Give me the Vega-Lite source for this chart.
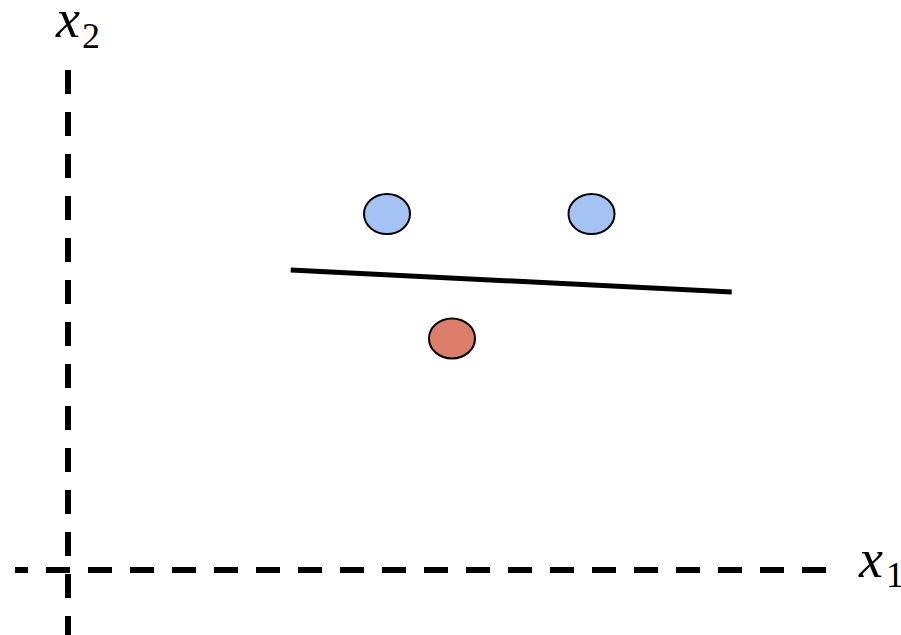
{
  "$schema": "https://vega.github.io/schema/vega-lite/v6.json",
  "width": 901,
  "height": 635,
  "autosize": {"type": "none"},
  "padding": 0,
  "background": "white",
  "config": {"view": {"stroke": null}},
  "datasets": {
    "points": [
      {"x1": 3.9875, "x2": 4.45, "cls": "positive"},
      {"x1": 6.544, "x2": 4.45, "cls": "positive"},
      {"x1": 4.8, "x2": 2.894, "cls": "negative"}
    ],
    "boundary": [
      {"x1": 2.784, "x2": 3.75},
      {"x1": 8.296, "x2": 3.475}
    ],
    "vaxis": [{"x1": 0, "x2start": 6.25, "x2end": -0.8125}],
    "haxis": [{"x2": 0, "x1start": -0.6625, "x1end": 9.475}],
    "labels": [
      {"t": "x", "x1": 0, "x2": 6.6625, "role": "var"},
      {"t": "2", "x1": 0.175, "x2": 6.525, "role": "sub"},
      {"t": "x", "x1": 10.0375, "x2": -0.0875, "role": "var"},
      {"t": "1", "x1": 10.225, "x2": -0.2125, "role": "sub"}
    ]
  },
  "layer": [
    {
      "data": {"name": "vaxis"},
      "mark": {"type": "rule", "strokeWidth": 6, "strokeDash": [24, 18], "strokeCap": "butt", "color": "black"},
      "encoding": {
        "x": {"field": "x1", "type": "quantitative", "scale": {"domain": [-0.85, 10.4125], "nice": false, "zero": false}, "axis": null},
        "y": {"field": "x2start", "type": "quantitative", "scale": {"domain": [-0.8125, 7.125], "nice": false, "zero": false}, "axis": null},
        "y2": {"field": "x2end"}
      }
    },
    {
      "data": {"name": "haxis"},
      "mark": {"type": "rule", "strokeWidth": 6, "strokeDash": [24, 18], "strokeDashOffset": 11, "strokeCap": "butt", "color": "black"},
      "encoding": {
        "x": {"field": "x1start", "type": "quantitative", "scale": {"domain": [-0.85, 10.4125], "nice": false, "zero": false}, "axis": null},
        "x2": {"field": "x1end"},
        "y": {"field": "x2", "type": "quantitative", "scale": {"domain": [-0.8125, 7.125], "nice": false, "zero": false}, "axis": null}
      }
    },
    {
      "data": {"name": "boundary"},
      "mark": {"type": "line", "strokeWidth": 5, "strokeCap": "butt", "color": "black"},
      "encoding": {
        "x": {"field": "x1", "type": "quantitative", "scale": {"domain": [-0.85, 10.4125], "nice": false, "zero": false}, "axis": null},
        "y": {"field": "x2", "type": "quantitative", "scale": {"domain": [-0.8125, 7.125], "nice": false, "zero": false}, "axis": null}
      }
    },
    {
      "data": {"name": "points"},
      "mark": {"type": "point", "filled": true, "shape": "M-1,0A1,0.87,0,1,0,1,0A1,0.87,0,1,0,-1,0Z", "size": 2116, "stroke": "black", "strokeWidth": 2, "opacity": 1, "fillOpacity": 1},
      "encoding": {
        "x": {"field": "x1", "type": "quantitative", "scale": {"domain": [-0.85, 10.4125], "nice": false, "zero": false}, "axis": null},
        "y": {"field": "x2", "type": "quantitative", "scale": {"domain": [-0.8125, 7.125], "nice": false, "zero": false}, "axis": null},
        "fill": {"field": "cls", "type": "nominal", "scale": {"domain": ["positive", "negative"], "range": ["#a4c2f4", "#dd7e6b"]}, "legend": null}
      }
    },
    {
      "data": {"name": "labels"},
      "transform": [{"filter": "datum.role === 'var'"}],
      "mark": {"type": "text", "font": "Liberation Serif", "fontStyle": "italic", "fontSize": 54, "align": "center", "baseline": "alphabetic", "color": "black"},
      "encoding": {
        "x": {"field": "x1", "type": "quantitative", "scale": {"domain": [-0.85, 10.4125], "nice": false, "zero": false}, "axis": null},
        "y": {"field": "x2", "type": "quantitative", "scale": {"domain": [-0.8125, 7.125], "nice": false, "zero": false}, "axis": null},
        "text": {"field": "t"}
      }
    },
    {
      "data": {"name": "labels"},
      "transform": [{"filter": "datum.role === 'sub'"}],
      "mark": {"type": "text", "font": "Liberation Serif", "fontSize": 36, "align": "left", "baseline": "alphabetic", "color": "black"},
      "encoding": {
        "x": {"field": "x1", "type": "quantitative", "scale": {"domain": [-0.85, 10.4125], "nice": false, "zero": false}, "axis": null},
        "y": {"field": "x2", "type": "quantitative", "scale": {"domain": [-0.8125, 7.125], "nice": false, "zero": false}, "axis": null},
        "text": {"field": "t"}
      }
    }
  ]
}
